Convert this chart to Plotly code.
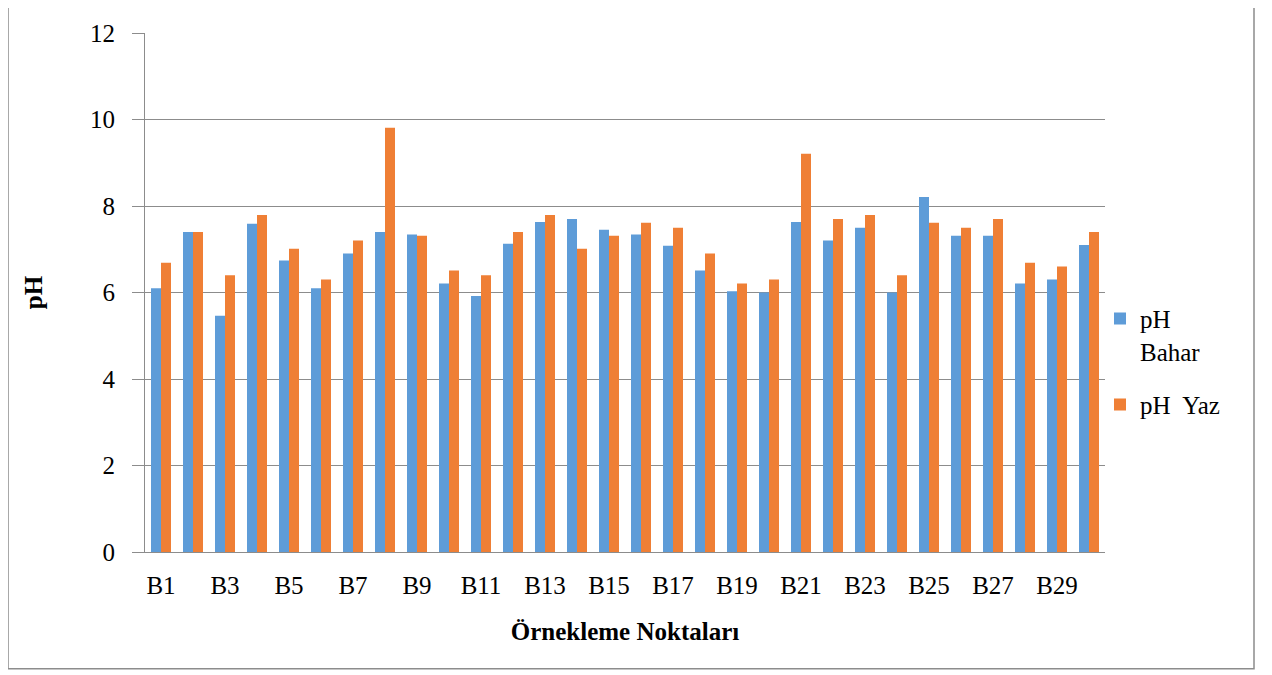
import plotly.graph_objects as go

categories = [f"B{i}" for i in range(1, 31)]
ph_bahar = [6.10, 7.40, 5.46, 7.59, 6.74, 6.10, 6.90, 7.40, 7.34, 6.21,
            5.92, 7.13, 7.63, 7.70, 7.45, 7.34, 7.08, 6.51, 6.03, 6.00,
            7.63, 7.20, 7.50, 6.00, 8.21, 7.31, 7.31, 6.21, 6.30, 7.10]
ph_yaz = [6.69, 7.40, 6.40, 7.79, 7.01, 6.30, 7.20, 9.81, 7.31, 6.51,
          6.40, 7.40, 7.79, 7.01, 7.31, 7.61, 7.50, 6.90, 6.21, 6.30,
          9.21, 7.70, 7.79, 6.40, 7.61, 7.50, 7.70, 6.69, 6.60, 7.40]
series_names = ["pH<br>Bahar", "pH  Yaz"]
y_ticks = [0, 2, 4, 6, 8, 10, 12]
x_title = "Örnekleme Noktaları"
y_title = "pH"

FONT = "Liberation Serif"
FS = 25
colors = ["#5e9cd8", "#ef7f35"]

fig = go.Figure()
for i, (name, vals, col) in enumerate(zip(series_names, [ph_bahar, ph_yaz], colors)):
    fig.add_trace(go.Bar(
        x=categories, y=vals, name=name, legendgroup=f"g{i}",
        marker=dict(color=col, line=dict(width=0)),
    ))

# page body has an 8px margin; reference window pixel p -> figure pixel p - 8
OFF = 8
W, H = 1264, 667
ml, mt = 145 - OFF, 28 - OFF
mr = W - (1105 - OFF)
mb = H - (552 - OFF)
pw, ph = W - ml - mr, H - mt - mb

def px_x(p):
    return (p - OFF - ml) / pw

def px_y(p):
    return (H - mb - (p - OFF)) / ph

fig.update_layout(
    width=W, height=H,
    margin=dict(l=ml, r=mr, t=mt, b=mb, pad=0),
    paper_bgcolor="white", plot_bgcolor="white",
    barmode="group", bargap=0.375, bargroupgap=0,
    font=dict(family=FONT, size=FS, color="black"),
    legend=dict(
        x=px_x(1100), y=px_y(360), xanchor="left", yanchor="middle",
        font=dict(family=FONT, size=FS, color="black"),
        itemwidth=30, tracegroupgap=18, bgcolor="rgba(0,0,0,0)",
        valign="top",
    ),
    xaxis=dict(
        type="category",
        tickvals=categories[::2], ticktext=categories[::2],
        showgrid=False, showline=True, linecolor="#8c8c8c", linewidth=1,
        ticks="", tickfont=dict(family=FONT, size=FS, color="black"),
        ticklabelstandoff=11,
        title=dict(text=f"<b>{x_title}</b>", font=dict(family=FONT, size=FS, color="black"), standoff=24),
    ),
    yaxis=dict(
        range=[0, 12], tickvals=y_ticks, ticktext=[str(v) for v in y_ticks],
        showgrid=True, gridcolor="#8c8c8c", gridwidth=1,
        showline=True, linecolor="#8c8c8c", linewidth=1,
        ticks="outside", ticklen=12, tickcolor="#8c8c8c",
        ticklabelstandoff=12,
        tickfont=dict(family=FONT, size=FS, color="black"),
        zeroline=False,
        title=dict(text=f"<b>{y_title}</b>", font=dict(family=FONT, size=FS, color="black"), standoff=40),
    ),
    shapes=[dict(
        type="rect", xref="paper", yref="paper",
        x0=px_x(8), x1=px_x(1254), y0=px_y(670), y1=px_y(-3),
        line=dict(color="#8c8c8c", width=1.5), fillcolor="rgba(0,0,0,0)", layer="below",
    )],
)

fig.write_html("out.html")
